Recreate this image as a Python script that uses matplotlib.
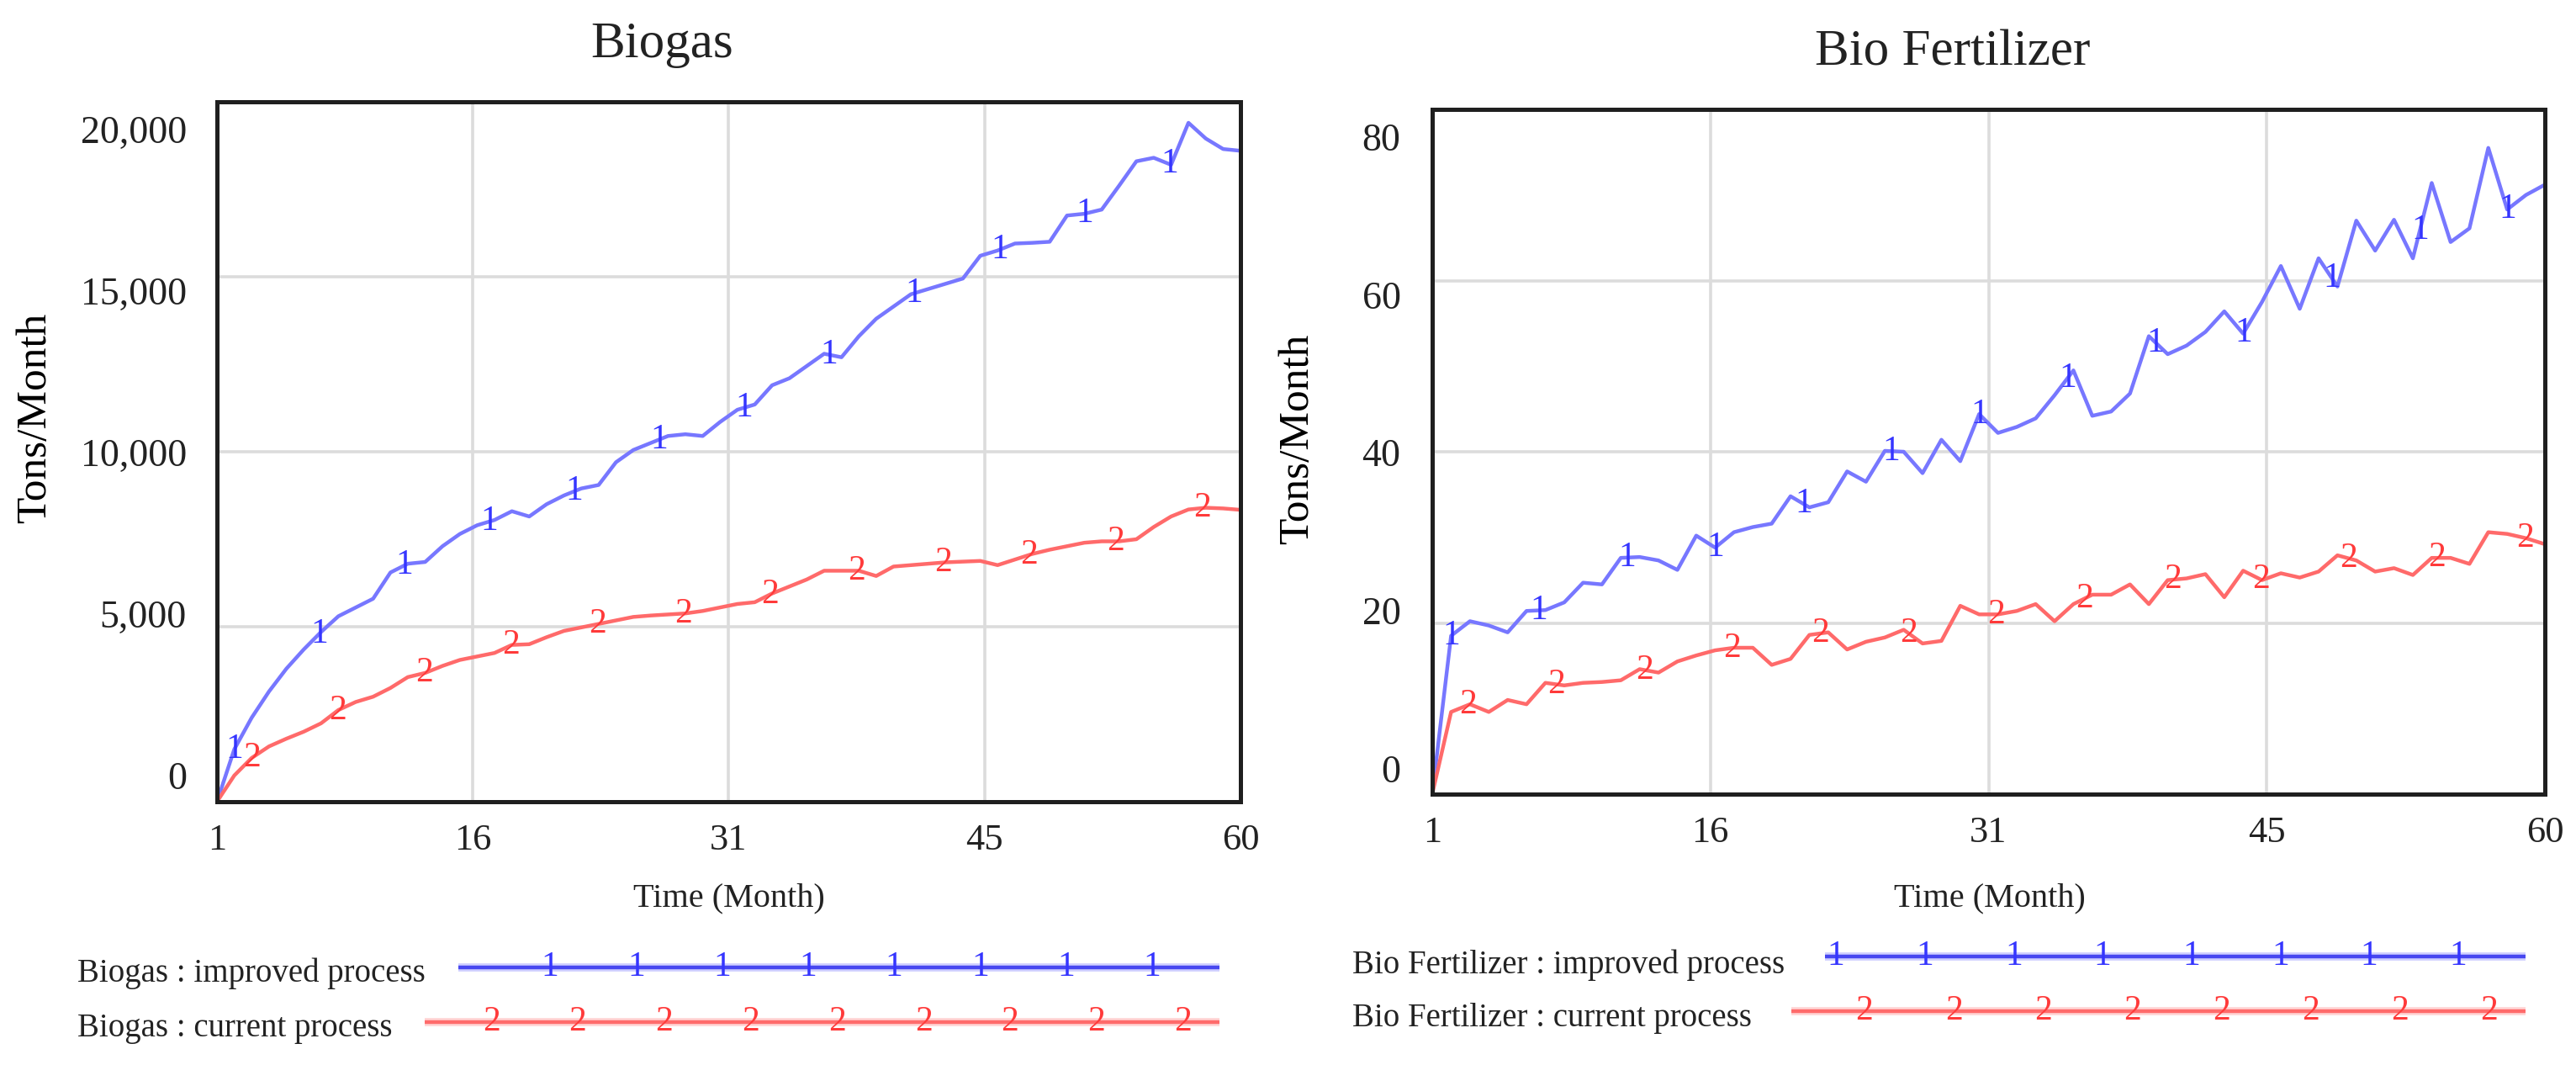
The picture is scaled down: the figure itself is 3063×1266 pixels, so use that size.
import numpy as np
import matplotlib
matplotlib.use("Agg")
import matplotlib.pyplot as plt

# ---------------- data ----------------
months = np.arange(1, 61)

biogas_improved = [0, 1500, 2400, 3150, 3800, 4350, 4850, 5300, 5550, 5800,
                   6550, 6800, 6850, 7300, 7650, 7900, 8050, 8300, 8150, 8500,
                   8750, 8950, 9050, 9700, 10050, 10250, 10450, 10500, 10450, 10850,
                   11200, 11350, 11900, 12100, 12450, 12800, 12700, 13300, 13800, 14150,
                   14500, 14650, 14800, 14950, 15600, 15750, 15950, 15970, 16000, 16750,
                   16800, 16920, 17600, 18300, 18400, 18200, 19400, 18950, 18650, 18600]

biogas_current = [0, 750, 1250, 1580, 1800, 2000, 2240, 2620, 2850, 3000,
                  3250, 3560, 3680, 3880, 4050, 4150, 4250, 4480, 4500, 4700,
                  4880, 4980, 5080, 5180, 5280, 5320, 5350, 5380, 5450, 5550,
                  5650, 5700, 5950, 6150, 6350, 6600, 6600, 6600, 6450, 6720,
                  6760, 6800, 6840, 6860, 6880, 6760, 6920, 7080, 7200, 7300,
                  7400, 7440, 7440, 7500, 7850, 8150, 8350, 8400, 8380, 8340]

fert_improved = [0, 18.5, 20.2, 19.7, 18.9, 21.4, 21.5, 22.4, 24.7, 24.5,
                 27.6, 27.7, 27.3, 26.2, 30.2, 28.8, 30.6, 31.2, 31.6, 34.8,
                 33.5, 34.1, 37.7, 36.5, 40.1, 40.0, 37.5, 41.4, 38.9, 44.4,
                 42.2, 42.9, 43.9, 46.6, 49.5, 44.2, 44.7, 46.8, 53.5, 51.4,
                 52.4, 54.0, 56.4, 53.8, 57.5, 61.7, 56.7, 62.6, 59.3, 67.0,
                 63.5, 67.1, 62.6, 71.4, 64.5, 66.1, 75.5, 68.3, 70.0, 71.2]

fert_current = [0, 9.6, 10.5, 9.6, 11.0, 10.5, 13.0, 12.7, 13.0, 13.1,
                13.3, 14.6, 14.2, 15.5, 16.2, 16.8, 17.1, 17.1, 15.1, 15.8,
                18.6, 18.9, 16.9, 17.8, 18.3, 19.2, 17.6, 17.9, 22.0, 21.0,
                21.0, 21.4, 22.2, 20.2, 22.2, 23.3, 23.3, 24.5, 22.2, 25.0,
                25.2, 25.7, 23.0, 26.1, 25.0, 25.8, 25.3, 26.0, 27.9, 27.3,
                26.0, 26.4, 25.6, 27.6, 27.6, 26.9, 30.6, 30.4, 29.9, 29.2]

x_tick_pos = [1, 15.75, 30.5, 45.25, 60]
x_tick_labels = ["1", "16", "31", "45", "60"]
biogas_y_ticks = [0, 5000, 10000, 15000, 20000]
biogas_y_labels = ["0", "5,000", "10,000", "15,000", "20,000"]
fert_y_ticks = [0, 20, 40, 60, 80]
fert_y_labels = ["0", "20", "40", "60", "80"]
titles = ["Biogas", "Bio Fertilizer"]
y_label = "Tons/Month"
x_label = "Time (Month)"
legend_biogas = ["Biogas : improved process", "Biogas : current process"]
legend_fert = ["Bio Fertilizer : improved process", "Bio Fertilizer : current process"]

# ---------------- style ----------------
plt.rcParams["font.family"] = ["Liberation Serif", "DejaVu Serif"]
W, H = 3063, 1266
BLUE_LINE, BLUE_MARK = "#7777ff", "#3535ff"
RED_LINE, RED_MARK = "#ff6a6a", "#ff3a3a"
TXT = "#222222"

fig = plt.figure(figsize=(W / 100, H / 100), dpi=100)
fig.patch.set_facecolor("white")


def px_rect(x0, y0, x1, y1):
    return [x0 / W, 1 - y1 / H, (x1 - x0) / W, (y1 - y0) / H]


def panel(rect, yticks, ylabels, improved, current, bstart, bstep, bn, rstart, rstep, rn, ypad):
    ax = fig.add_axes(rect)
    ymin, ymax = yticks[0], yticks[-1]
    ax.set_xlim(1, 60)
    ax.set_ylim(ymin, ymax)
    ax.set_xticks(x_tick_pos)
    ax.set_xticklabels(x_tick_labels, fontsize=32, color=TXT)
    ax.set_yticks(yticks)
    ax.set_yticklabels([])
    lab_pos = [ymin + (0.037 + 0.2308 * i) * (ymax - ymin) for i in range(len(ylabels))]
    ax.set_yticks(lab_pos, labels=ylabels, minor=True)
    for t in ax.get_yticklabels(minor=True):
        t.set_fontsize(33)
        t.set_color(TXT)
    ax.tick_params(axis="x", length=0, pad=19)
    ax.tick_params(axis="y", which="both", length=0, pad=ypad)
    ax.grid(True, which="major", color="#dcdcdc", lw=2.6)
    ax.set_axisbelow(True)
    for s in ax.spines.values():
        s.set_linewidth(3.6)
        s.set_color("#1f1f1f")
        s.set_zorder(5)
    ax.plot(months, improved, color=BLUE_LINE, lw=3.2, zorder=3, solid_joinstyle="round")
    ax.plot(months, current, color=RED_LINE, lw=3.2, zorder=3, solid_joinstyle="round")
    for k in range(bn):
        t = bstart + bstep * k
        ax.text(t, np.interp(t, months, improved), "1", color=BLUE_MARK, fontsize=30,
                ha="center", va="center", zorder=4)
    for k in range(rn):
        t = rstart + rstep * k
        ax.text(t, np.interp(t, months, current), "2", color=RED_MARK, fontsize=30,
                ha="center", va="center", zorder=4)
    return ax


ax1 = panel(px_rect(258, 121, 1475, 953), biogas_y_ticks, biogas_y_labels,
            biogas_improved, biogas_current, 2.0, 4.9, 12, 3.0, 4.98, 12, 26)
ax2 = panel(px_rect(1703, 130, 3026, 944), fert_y_ticks, fert_y_labels,
            fert_improved, fert_current, 2.0, 4.67, 13, 2.9, 4.67, 13, 27)

# ---------------- overlay for titles, axis labels, legends ----------------
ov = fig.add_axes([0, 0, 1, 1], zorder=-1)
ov.set_xlim(0, W)
ov.set_ylim(H, 0)
ov.axis("off")

ov.text(787, 68, titles[0], fontsize=44, ha="center", va="baseline", color=TXT)
ov.text(2322, 77, titles[1], fontsize=44, ha="center", va="baseline", color=TXT)
ov.text(42, 497, y_label, fontsize=37, rotation=90, ha="center", va="center", color="black")
ov.text(1543, 522, y_label, fontsize=37, rotation=90, ha="center", va="center", color="black")
ov.text(867, 1068, x_label, fontsize=29, ha="center", va="center", color=TXT)
ov.text(2366, 1068, x_label, fontsize=29, ha="center", va="center", color=TXT)


def legend_row(tx, tbase, label, lx0, lx1, ly, mx0, mstep, mn, core, halo, mcol, mchar):
    ov.text(tx, tbase, label, fontsize=28, ha="left", va="baseline", color=TXT)
    ov.plot([lx0, lx1], [ly, ly], color=halo, lw=7, solid_capstyle="butt")
    ov.plot([lx0, lx1], [ly, ly], color=core, lw=3.2, solid_capstyle="butt")
    for k in range(mn):
        ov.text(mx0 + mstep * k, ly, mchar, fontsize=30, ha="center", va="center", color=mcol)


legend_row(92, 1167, legend_biogas[0], 545, 1450, 1150, 654, 102.3, 8,
           "#4747f0", "#cfcfff", BLUE_MARK, "1")
legend_row(92, 1232, legend_biogas[1], 505, 1450, 1215, 584, 102.8, 9,
           "#ff6b6b", "#ffd6d6", RED_MARK, "2")
legend_row(1608, 1157, legend_fert[0], 2170, 3003, 1137, 2183, 105.7, 8,
           "#4747f0", "#cfcfff", BLUE_MARK, "1")
legend_row(1608, 1220, legend_fert[1], 2130, 3003, 1202, 2217, 106.1, 8,
           "#ff6b6b", "#ffd6d6", RED_MARK, "2")

fig.savefig("out.png", dpi=100, facecolor="white")
